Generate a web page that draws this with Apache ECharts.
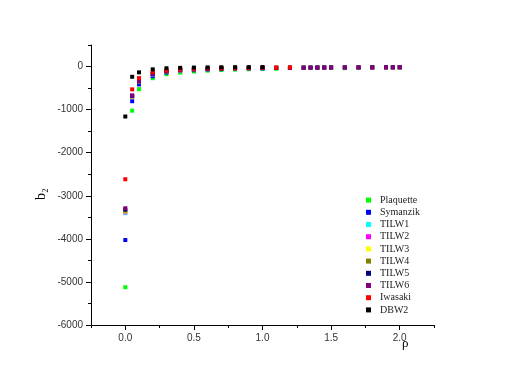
<!DOCTYPE html>
<html>
<head>
<meta charset="utf-8">
<script src="https://cdn.jsdelivr.net/npm/echarts@6/dist/echarts.min.js"></script>
<style>
  html, body { margin: 0; padding: 0; background: #fff; }
  #main { width: 505px; height: 390px; }
</style>
</head>
<body>
<div id="main"></div>
<script>
// series names and colours (legend order)
var names = ['Plaquette', 'Symanzik', 'TILW1', 'TILW2', 'TILW3', 'TILW4', 'TILW5', 'TILW6', 'Iwasaki', 'DBW2'];
var colors = ['#00ff00', '#0000ff', '#00ffff', '#ff00ff', '#ffff00', '#808000', '#000080', '#800080', '#ff0000', '#000000'];

// rho values
var rhoPlaquette = [0, 0.05, 0.1, 0.2, 0.3, 0.4, 0.5, 0.6, 0.7, 0.8, 0.9, 1.0, 1.1, 1.6, 1.7];
var rhoSymanzik = [0, 0.05, 0.1, 0.2, 0.3, 0.4, 0.5, 0.6, 0.7, 0.8, 0.9, 1.0, 1.5];
var rhoTILW = [0, 0.05, 0.1, 0.2, 0.3, 0.4, 0.5, 0.6, 0.7, 0.8, 0.9, 1.0, 1.1, 1.2, 1.3, 1.35, 1.4, 1.45, 1.5, 1.6, 1.7, 1.8, 1.9, 1.95, 2.0];
var rhoIwasaki = [0, 0.05, 0.1, 0.2, 0.3, 0.4, 0.5, 0.6, 0.7, 0.8, 0.9, 1.0, 1.1, 1.2];
var rhoDBW2 = [0, 0.05, 0.1, 0.2, 0.3, 0.4, 0.5, 0.6, 0.7, 0.8, 0.9, 1.0];

// b2 values
var bPlaquette = [-5123, -1025, -525, -270, -178, -140, -115, -95, -82, -72, -64, -58, -53, -38, -35];
var bSymanzik = [-4028, -805, -415, -224, -140, -105, -85, -70, -60, -52, -46, -42, -30];
var bTILW1 = [-3405, -712, -362, -182, -121, -91, -73, -60, -52, -46, -41, -37, -34, -32, -30, -29, -28, -27, -26, -25, -24, -23, -22, -22, -21];
var bTILW2 = [-3385, -705, -358, -179, -119, -89, -71, -59, -51, -45, -40, -36, -33, -31, -29, -28, -27, -26, -25, -24, -23, -22, -21, -21, -20];
var bTILW3 = [-3365, -698, -354, -176, -117, -88, -70, -58, -50, -44, -39, -35, -32, -30, -28, -27, -26, -25, -24, -23, -22, -21, -20, -20, -19];
var bTILW4 = [-3345, -690, -350, -173, -115, -86, -68, -56, -48, -42, -38, -34, -31, -29, -27, -26, -25, -24, -23, -22, -21, -20, -19, -19, -18];
var bTILW5 = [-3320, -680, -345, -170, -112, -84, -67, -55, -47, -41, -37, -33, -30, -28, -26, -25, -24, -23, -22, -21, -20, -19, -18, -18, -17];
var bTILW6 = [-3290, -670, -340, -165, -110, -82, -65, -54, -46, -40, -36, -32, -29, -27, -25, -24, -23, -22, -21, -20, -19, -18, -17, -17, -16];
var bIwasaki = [-2616, -530, -268, -123, -90, -65, -52, -42, -36, -31, -27, -24, -22, -20];
var bDBW2 = [-1160, -238, -135, -65, -40, -30, -24, -20, -17, -15, -13, -12];

// tick values
var xMajor = [0, 0.5, 1.0, 1.5, 2.0];
var xMinor = [-0.25, 0.25, 0.75, 1.25, 1.75, 2.25];
var yMajor = [-6000, -5000, -4000, -3000, -2000, -1000, 0];
var yMinor = [-5500, -4500, -3500, -2500, -1500, -500, 500];

var rhoSets = [rhoPlaquette, rhoSymanzik, rhoTILW, rhoTILW, rhoTILW, rhoTILW, rhoTILW, rhoTILW, rhoIwasaki, rhoDBW2];
var bSets = [bPlaquette, bSymanzik, bTILW1, bTILW2, bTILW3, bTILW4, bTILW5, bTILW6, bIwasaki, bDBW2];

function zip(xs, ys) {
    return xs.map(function (x, i) { return [x, ys[i]]; });
}

var series = names.map(function (n, i) {
    return {
        name: n,
        type: 'scatter',
        symbol: 'rect',
        symbolSize: 4,
        itemStyle: { color: colors[i], opacity: 1 },
        data: zip(rhoSets[i], bSets[i])
    };
});

var lineStyle = { color: '#000', width: 1 };
var labelFont = { fontFamily: 'Liberation Sans', fontSize: 10, color: '#333' };

var myChart = echarts.init(document.getElementById('main'));
var option = {
    animation: false,
    grid: { left: 91, right: 71, top: 45, bottom: 65 },
    legend: {
        orient: 'vertical',
        left: 361,
        top: 189,
        icon: 'rect',
        itemWidth: 5,
        itemHeight: 5,
        itemGap: 0,
        data: names,
        itemStyle: { opacity: 1 },
        textStyle: { fontFamily: 'Liberation Serif', fontSize: 10, lineHeight: 12.2, color: '#222', padding: [0, 0, 0, 4] }
    },
    xAxis: [
        {
            type: 'value', min: -0.25, max: 2.25,
            splitLine: { show: false },
            axisLine: { onZero: false, lineStyle: lineStyle },
            axisTick: { customValues: xMajor, length: 5, lineStyle: lineStyle },
            axisLabel: Object.assign({ customValues: xMajor, margin: 8, formatter: function (v) { return v.toFixed(1); } }, labelFont)
        },
        {
            type: 'value', min: -0.25, max: 2.25, position: 'bottom',
            splitLine: { show: false },
            axisLine: { show: false, onZero: false },
            axisTick: { customValues: xMinor, length: 3, lineStyle: lineStyle },
            axisLabel: { show: false }
        }
    ],
    yAxis: [
        {
            type: 'value', min: -6000, max: 500,
            splitLine: { show: false },
            axisLine: { onZero: false, lineStyle: lineStyle },
            axisTick: { customValues: yMajor, length: 5, lineStyle: lineStyle },
            axisLabel: Object.assign({ customValues: yMajor, margin: 8, formatter: function (v) { return String(v); } }, labelFont)
        },
        {
            type: 'value', min: -6000, max: 500, position: 'left',
            splitLine: { show: false },
            axisLine: { show: false, onZero: false },
            axisTick: { customValues: yMinor, length: 3, lineStyle: lineStyle },
            axisLabel: { show: false }
        }
    ],
    graphic: [
        {
            type: 'text', left: 34, top: 188, rotation: Math.PI / 2,
            style: { text: 'b₂', font: '14px "Liberation Serif"', fill: '#000' }
        },
        {
            type: 'text', left: 402, top: 337,
            style: { text: 'ρ', font: '13px "Liberation Serif"', fill: '#000' }
        }
    ],
    series: series
};
myChart.setOption(option);
</script>
</body>
</html>
